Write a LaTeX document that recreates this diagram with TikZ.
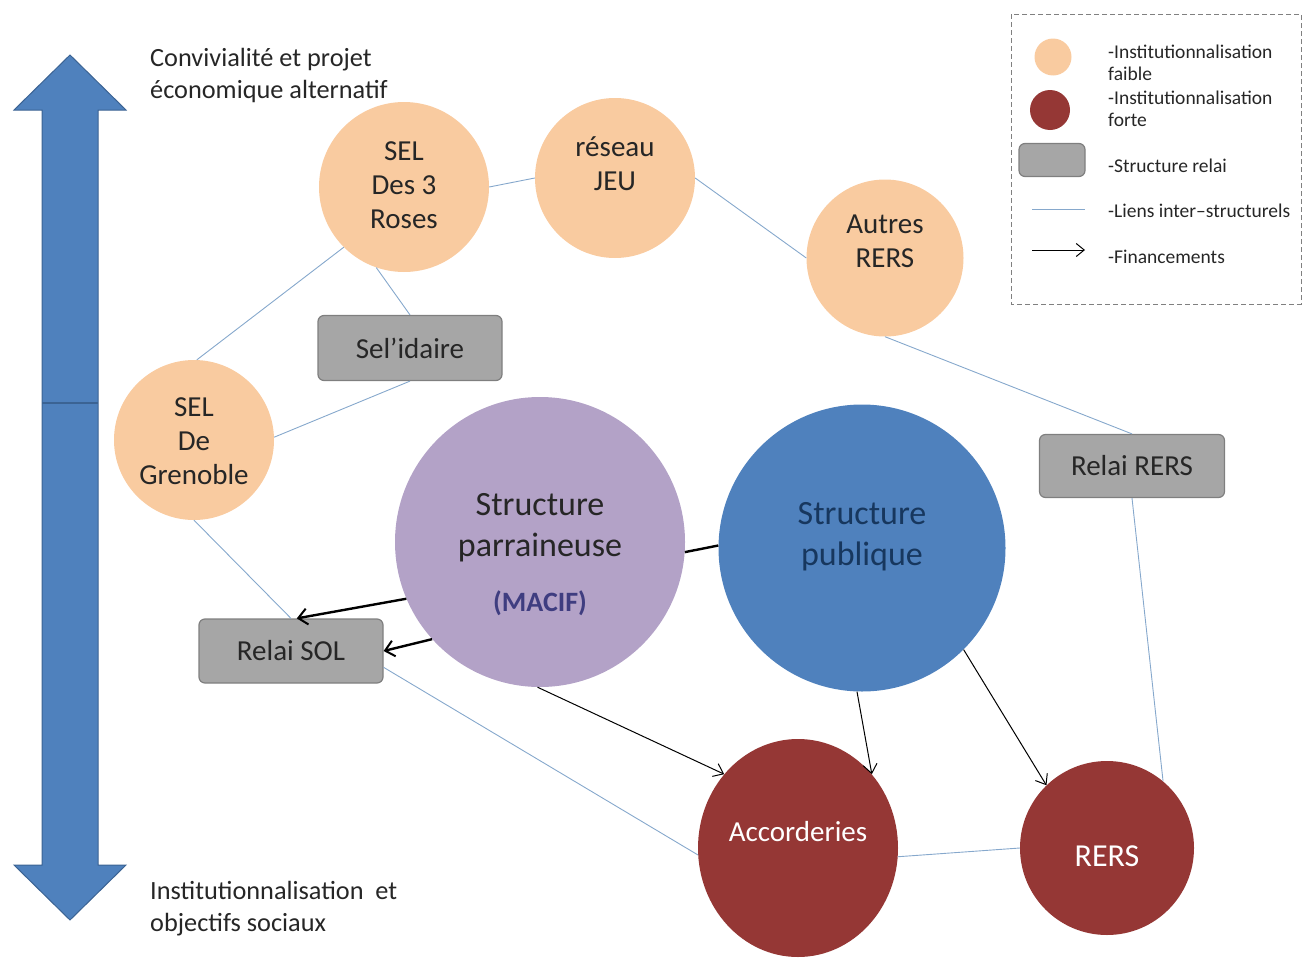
\documentclass[tikz,border=0pt]{standalone}
\usepackage{fontspec}
\setmainfont{Carlito}
\usetikzlibrary{arrows.meta,shapes.geometric,calc}
\definecolor{peach}{HTML}{F9CBA0}
\definecolor{lilac}{HTML}{B3A2C7}
\definecolor{pubblue}{HTML}{4F81BD}
\definecolor{darkred}{HTML}{953735}
\definecolor{relaygray}{HTML}{A6A6A6}
\definecolor{relayedge}{HTML}{7F7F7F}
\definecolor{linkblue}{HTML}{86A8CC}
\definecolor{txtgray}{HTML}{262626}
\definecolor{navy}{HTML}{17375E}
\definecolor{macif}{HTML}{3F3D80}
\definecolor{arrowedge}{HTML}{3B6393}
\tikzset{
  weakc/.style={circle,fill=peach,draw=none,inner sep=0pt},
  strongc/.style={circle,fill=darkred,draw=none,inner sep=0pt},
  ctext/.style={anchor=base,align=center,inner sep=0pt,text=txtgray,font=\fontsize{29}{34}\selectfont},
  relay/.style={rectangle,rounded corners=6pt,fill=relaygray,draw=relayedge,line width=1.2pt,inner sep=0pt,text=txtgray,font=\fontsize{29}{34}\selectfont},
  link/.style={draw=linkblue,line width=0.9pt},
  fund/.style={draw=black,line width=1pt,-{Straight Barb[length=9pt,width=14pt]}},
  fundthick/.style={draw=black,line width=2.4pt,-{Straight Barb[length=9pt,width=16pt,line width=2pt]}},
  legtxt/.style={anchor=base west,text=txtgray,font=\fontsize{19.5}{22}\selectfont,align=left,inner sep=0pt},
  sidetxt/.style={anchor=base west,text=txtgray,font=\fontsize{26.3}{32}\selectfont,align=left,inner sep=0pt}
}
\begin{document}
\begin{tikzpicture}[x=1pt,y=-1pt]
\useasboundingbox (0,0) rectangle (1309,961);
% double arrow
\draw[fill=pubblue,draw=arrowedge,line width=1pt,line join=miter]
  (70,55) -- (126,110) -- (98,110) -- (98,865) -- (126,865) -- (70,920)
  -- (14,865) -- (42,865) -- (42,110) -- (14,110) -- cycle;
\draw[draw=arrowedge,line width=1.5pt] (42,403) -- (98,403);
\node[sidetxt] (topt) at (150,98) {Convivialit\'e et projet\\\'economique alternatif};
\node[sidetxt] (bott) at (150,931) {Institutionnalisation\ \ et\\objectifs sociaux};

% nodes
\node[weakc,minimum size=170pt] (rose) at (404,187) {};
\node[weakc,minimum size=160pt] (jeu) at (615,178) {};
\node[weakc,minimum size=157pt] (autres) at (885,258) {};
\node[weakc,minimum size=160pt] (gren) at (194,440) {};
\node[circle,fill=lilac,minimum size=290pt,inner sep=0pt] (parr) at (540,542) {};
\node[circle,fill=pubblue,minimum size=287pt,inner sep=0pt] (pub) at (862,548) {};
\node[ellipse,fill=darkred,minimum width=200pt,minimum height=218pt,inner sep=0pt] (accord) at (798,848) {};
\node[strongc,minimum size=174pt] (rers) at (1107,848) {};
\node[relay,minimum width=184pt,minimum height=65pt] (seli) at (410,348) {Sel'idaire};
\node[relay,minimum width=184pt,minimum height=64pt] (relsol) at (291,651) {Relai SOL};
\node[relay,minimum width=185pt,minimum height=63pt] (relrers) at (1132,466) {Relai RERS};

% texts in circles
\node[ctext] (roset) at (404,228) {SEL\\Des 3\\Roses};
\node[ctext] (jeut) at (615,190) {r\'eseau\\JEU};
\node[ctext] (autrest) at (885,267) {Autres\\RERS};
\node[ctext] (grent) at (194,484) {SEL\\De\\Grenoble};
\node[ctext,text=txtgray,font=\fontsize{34}{41}\selectfont] (parrt) at (540,556) {Structure\\parraineuse};
\node[ctext,text=macif,font=\bfseries\fontsize{28}{32}\selectfont] (macift) at (540,611) {(MACIF)};
\node[ctext,text=navy,font=\fontsize{34}{41}\selectfont] (pubt) at (862,565) {Structure\\publique};
\node[ctext,text=white] (accordt) at (798,841) {Accorderies};
\node[ctext,text=white,font=\fontsize{32}{36}\selectfont] (rerst) at (1107,866) {RERS};

% links
\draw[link] (rose.0) -- (jeu.180);
\draw[link] (jeu.0) -- (autres.180);
\draw[link] (rose.225) -- (gren.88);
\draw[link] (rose.251) -- (seli.north);
\draw[link] (seli.south) -- (gren.2);
\draw[link] (autres.south) -- (relrers.north);
\draw[link] (relrers.south) -- (rers.50);
\draw[link] (gren.south) -- (relsol.north);
\draw[link] (relsol.-10) -- (accord.184);
\draw[link] (accord.-5) -- (rers.west);

% financements
\draw[fundthick] (parr.203.6) -- (relsol.80);
\draw[fundthick] (parr.222.7) -- (relsol.east);
\draw[black,line width=2.4pt] (parr.-4) -- (pub.179);
\draw[fund] (parr.269) -- (accord.135);
\draw[fund] (pub.268) -- (accord.45);
\draw[fund] (pub.-45) -- (rers.134);

% legend
\draw[dashed,draw=gray,line width=0.8pt,dash pattern=on 5pt off 3pt] (1011,14) rectangle (1301,304);
\node[circle,fill=peach,minimum size=37pt,inner sep=0pt] (lweak) at (1053,57) {};
\node[circle,fill=darkred,minimum size=40pt,inner sep=0pt] (lstrong) at (1050,110) {};
\node[relay,minimum width=66pt,minimum height=33pt] (lrelay) at (1052,160) {};
\coordinate (la1) at (1032,209);
\coordinate (la2) at (1085,209);
\coordinate (lb1) at (1032,250);
\coordinate (lb2) at (1085,250);
\draw[link] (la1) -- (la2);
\draw[draw=black,line width=1pt,-{Straight Barb[length=8pt,width=13pt]}] (lb1) -- (lb2);
\node[legtxt] (t1) at (1108,80) {-Institutionnalisation\\faible};
\node[legtxt] (t2) at (1108,126) {-Institutionnalisation\\forte};
\node[legtxt] (t3) at (1108,172) {-Structure relai};
\node[legtxt] (t4) at (1108,217) {-Liens inter--structurels};
\node[legtxt] (t5) at (1108,263) {-Financements};
\end{tikzpicture}
\end{document}
